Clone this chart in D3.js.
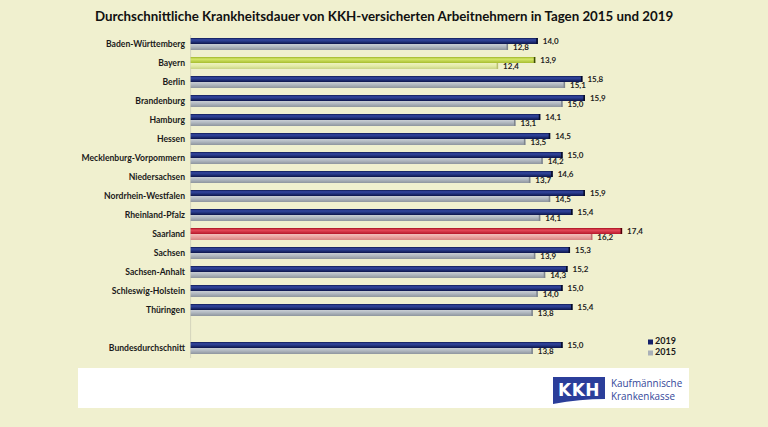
<!DOCTYPE html>
<html><head><meta charset="utf-8">
<script src="https://cdn.jsdelivr.net/npm/d3@7"></script>
<style>
html,body{margin:0;padding:0;background:#f0f0cf;}
svg{display:block;}
</style></head>
<body>
<svg id="chart" width="768" height="427"></svg>
<script>
const categories = ["Baden-Württemberg","Bayern","Berlin","Brandenburg","Hamburg","Hessen","Mecklenburg-Vorpommern","Niedersachsen","Nordrhein-Westfalen","Rheinland-Pfalz","Saarland","Sachsen","Sachsen-Anhalt","Schleswig-Holstein","Thüringen","","Bundesdurchschnitt"];
const values2019 = [14.0,13.9,15.8,15.9,14.1,14.5,15.0,14.6,15.9,15.4,17.4,15.3,15.2,15.0,15.4,null,15.0];
const values2015 = [12.8,12.4,15.1,15.0,13.1,13.5,14.2,13.7,14.5,14.1,16.2,13.9,14.3,14.0,13.8,null,13.8];
const seriesNames = ["2019","2015"];
const title = "Durchschnittliche Krankheitsdauer von KKH-versicherten Arbeitnehmern in Tagen 2015 und 2019";

const svg = d3.select("#chart");
const font = "Lato, 'Open Sans', sans-serif";

const defs = svg.append("defs");
function grad(id, stops){
  const g = defs.append("linearGradient").attr("id",id).attr("x1",0).attr("y1",0).attr("x2",0).attr("y2",1);
  stops.forEach(([o,c])=>g.append("stop").attr("offset",o).attr("stop-color",c));
}
grad("gNavy",[[0,"#0f1a55"],[0.3,"#3447a0"],[0.6,"#23347f"],[1,"#0c144a"]]);
grad("gGray",[[0,"#c9ced4"],[0.4,"#b3bac2"],[1,"#8e959e"]]);
grad("gGreen",[[0,"#9fb52a"],[0.35,"#d6e86a"],[1,"#a7bd30"]]);
grad("gGreenL",[[0,"#eef2c2"],[0.5,"#e3eba6"],[1,"#c9d486"]]);
grad("gRed",[[0,"#a8101f"],[0.35,"#e64a5a"],[1,"#b5182a"]]);
grad("gRedL",[[0,"#f2c0bd"],[0.5,"#eaa3a0"],[1,"#d58783"]]);

const x = d3.scaleLinear().domain([0,20]).range([190.6,686.6]);
const y = d3.scaleBand().domain(categories.map((c,i)=>i)).range([35,35+17*19]).padding(0);

// title
svg.append("text").attr("x",384).attr("y",21).attr("text-anchor","middle")
  .attr("font-family",font).attr("font-weight","bold").attr("font-size",13.3).attr("fill","#111")
  .text(title);

// axis line
svg.append("line").attr("x1",x(0)).attr("x2",x(0)).attr("y1",35).attr("y2",358)
  .attr("stroke","#d4d4bc").attr("stroke-width",1);

function fillFor(i, s){
  const c = categories[i];
  if (c==="Bayern") return s===0?"url(#gGreen)":"url(#gGreenL)";
  if (c==="Saarland") return s===0?"url(#gRed)":"url(#gRedL)";
  return s===0?"url(#gNavy)":"url(#gGray)";
}
function capFor(i,s){
  const c = categories[i];
  if (c==="Bayern") return s===0?"#3d4a08":"#b8c070";
  if (c==="Saarland") return s===0?"#4a0008":"#c07070";
  return s===0?"#050a25":"#7e858e";
}

const rows = categories.map((c,i)=>({c,i,v19:values2019[i],v15:values2015[i]})).filter(d=>d.c!=="");
const fmt = v => d3.format(".1f")(v).replace(".",",");

const g = svg.append("g");
rows.forEach(d=>{
  const yt = y(d.i);
  [[d.v19,0,yt+3],[d.v15,1,yt+9]].forEach(([v,s,yy])=>{
    g.append("rect").attr("x",x(0)).attr("y",yy).attr("width",x(v)-x(0)).attr("height",6)
      .attr("fill",fillFor(d.i,s));
    g.append("rect").attr("x",x(v)-1.5).attr("y",yy).attr("width",1.5).attr("height",6)
      .attr("fill",capFor(d.i,s));
    g.append("text").attr("x",x(v)+5).attr("y",yy+3.6).attr("dominant-baseline","middle")
      .attr("font-family",font).attr("font-weight","bold").attr("font-size",8).attr("fill","#222")
      .text(fmt(v));
  });
  g.append("text").attr("x",185).attr("y",yt+9.5).attr("dominant-baseline","middle")
    .attr("text-anchor","end").attr("font-family",font).attr("font-weight","bold")
    .attr("font-size",8.6).attr("fill","#1a1a1a").text(d.c);
});

// legend
const leg = svg.append("g");
[["2019","#14206a",342],["2015","#a9b0b8",353]].forEach(([t,c,yy])=>{
  leg.append("rect").attr("x",648).attr("y",yy-2.5).attr("width",5).attr("height",5).attr("fill",c);
  leg.append("text").attr("x",655).attr("y",yy).attr("dominant-baseline","middle")
    .attr("font-family",font).attr("font-weight","bold").attr("font-size",9).attr("fill","#1a1a1a").text(t);
});

// white logo box
svg.append("rect").attr("x",78).attr("y",368).attr("width",611).attr("height",40).attr("fill","#ffffff");
// KKH logo
svg.append("path").attr("d","M553,377 L605,377 L605,399 Q580,399 553,404 Z").attr("fill","#2b3e9a");
svg.append("text").attr("x",579).attr("y",396).attr("text-anchor","middle")
  .attr("font-family","'DejaVu Sans', sans-serif").attr("font-weight","bold").attr("font-size",17)
  .attr("fill","#ffffff").attr("letter-spacing",0.5).text("KKH");
svg.append("text").attr("x",611).attr("y",387).attr("font-family","'Open Sans', sans-serif")
  .attr("font-size",9.9).attr("fill","#34479a").text("Kaufmännische");
svg.append("text").attr("x",611).attr("y",399.5).attr("font-family","'Open Sans', sans-serif")
  .attr("font-size",9.9).attr("fill","#34479a").text("Krankenkasse");
</script>
</body></html>
